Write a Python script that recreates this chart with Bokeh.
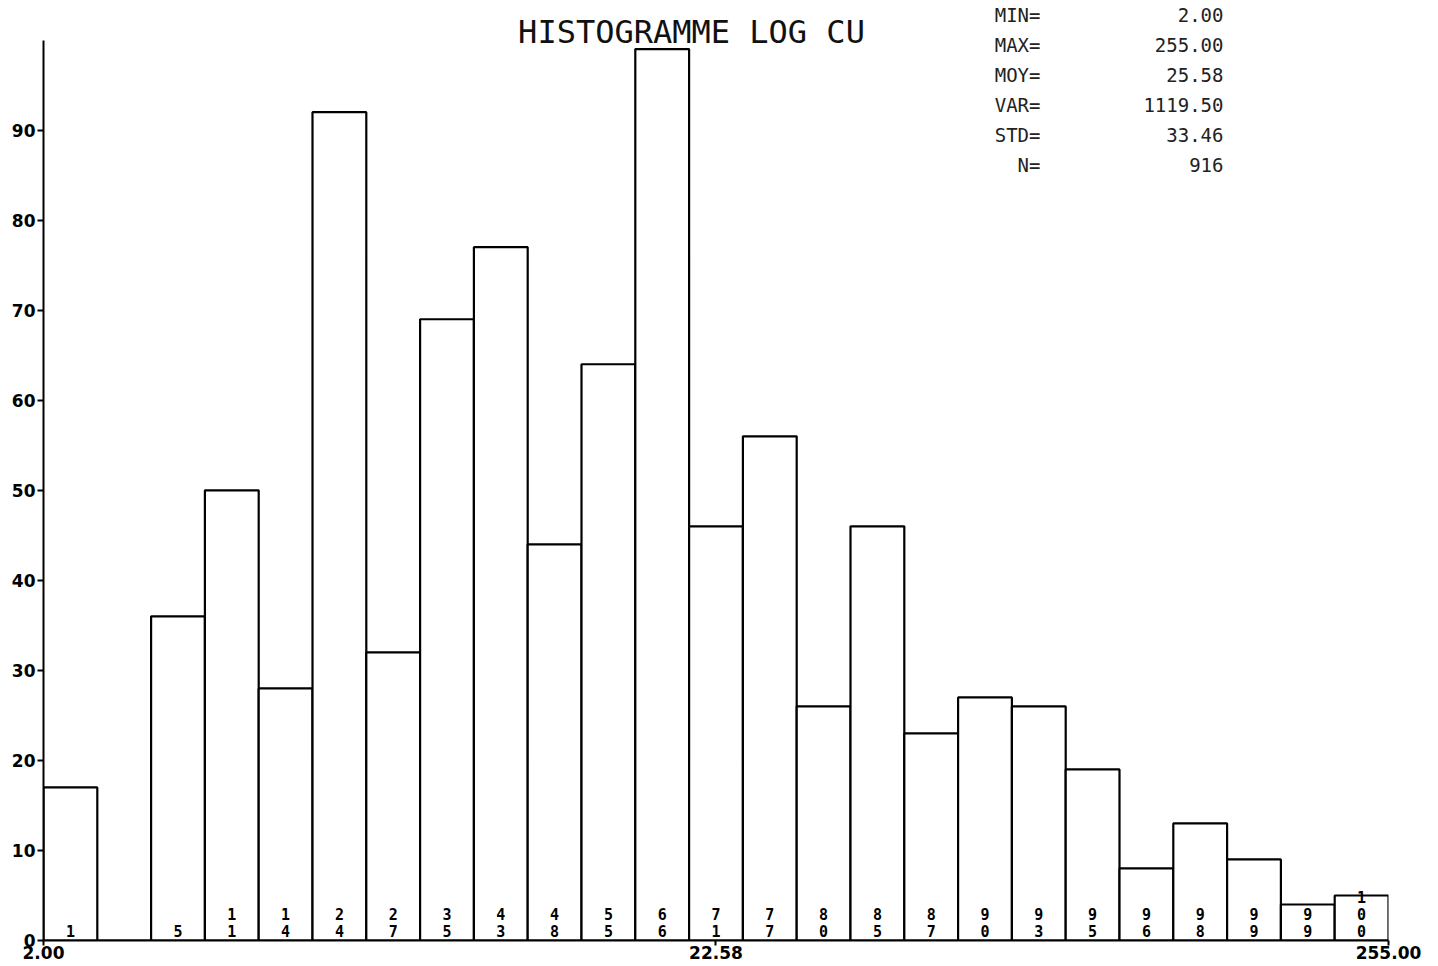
import numpy as np
from bokeh.plotting import figure
from bokeh.models import (ColumnDataSource, FixedTicker, PrintfTickFormatter,
                          Range1d, Label)
from bokeh.embed import file_html
from bokeh.resources import INLINE

# ---------------- data ----------------
title_text = "HISTOGRAMME LOG CU"
x_min, x_max, x_mid = 2.00, 255.00, 22.58
counts = [17, 0, 36, 50, 28, 92, 32, 69, 77, 44, 64, 99, 46,
          56, 26, 46, 23, 27, 26, 19, 8, 13, 9, 4, 5]
cum_labels = ["1", "", "5", "11", "14", "24", "27", "35", "43", "48", "55",
              "66", "71", "77", "80", "85", "87", "90", "93", "95", "96",
              "98", "99", "99", "100"]
y_ticks = [0, 10, 20, 30, 40, 50, 60, 70, 80, 90]
x_ticks = [x_min, x_mid, x_max]
stat_names = ["MIN=", "MAX=", "MOY=", "VAR=", "STD=", "N="]
stat_values = ["2.00", "255.00", "25.58", "1119.50", "33.46", "916"]

# ---------------- figure ----------------
W, H = 1438, 966
frame_h = 940
p = figure(width=W, height=H, x_axis_type="log",
           x_range=Range1d(x_min, x_max), y_range=Range1d(0, 104.4),
           output_backend="svg", toolbar_location=None,
           min_border_left=43, min_border_right=50,
           min_border_top=0, min_border_bottom=26)
p.outline_line_color = None
p.xgrid.grid_line_color = None
p.ygrid.grid_line_color = None
p.background_fill_color = "white"
p.border_fill_color = "white"

edges = np.geomspace(x_min, x_max, len(counts) + 1)
left, right = edges[:-1], edges[1:]
centers = np.sqrt(left * right)

bars = ColumnDataSource(dict(left=left, right=right,
                             top=counts, bottom=[0] * len(counts)))
p.quad(left="left", right="right", top="top", bottom="bottom", source=bars,
       fill_color="white", line_color="black", line_width=2.2)

# stacked cumulative-percent digits at bar bottoms
dx, dy, dt = [], [], []
for c, lab in zip(centers, cum_labels):
    for k, ch in enumerate(reversed(lab)):
        dx.append(c)
        dy.append(-10 - 17 * k)
        dt.append(ch)
dsrc = ColumnDataSource(dict(x=dx, y=[0] * len(dx), off=dy, t=dt))
p.text(x="x", y="y", text="t", y_offset="off", source=dsrc,
       text_align="center", text_baseline="alphabetic",
       text_font_size="15px", text_font_style="bold",
       text_font={"value": "DejaVu Sans Mono"}, text_color="black")

# axes
ya = p.yaxis[0]
ya.ticker = FixedTicker(ticks=y_ticks)
ya.bounds = (0, 100)
ya.major_tick_out = 6
ya.major_tick_in = 0
ya.minor_tick_out = 0
ya.minor_tick_in = 0
ya.axis_line_width = 2
ya.major_tick_line_width = 2
ya.major_label_standoff = 2
ya.major_label_text_font = "DejaVu Sans"
ya.major_label_text_font_style = "bold"
ya.major_label_text_font_size = "17px"
ya.major_label_text_color = "black"

xa = p.xaxis[0]
xa.ticker = FixedTicker(ticks=x_ticks)
xa.formatter = PrintfTickFormatter(format="%.2f")
xa.major_tick_out = 5
xa.major_tick_in = 0
xa.minor_tick_out = 0
xa.minor_tick_in = 0
xa.axis_line_width = 2
xa.major_tick_line_width = 2
xa.major_label_standoff = 0
xa.major_label_text_font = "DejaVu Sans"
xa.major_label_text_font_style = "bold"
xa.major_label_text_font_size = "17px"
xa.major_label_text_color = "black"

# title (screen units relative to the frame, origin bottom-left)
p.add_layout(Label(x=691 - 43, y=frame_h - 31, x_units="screen",
                   y_units="screen", text=title_text, text_align="center",
                   text_baseline="middle", text_font="DejaVu Sans Mono",
                   text_font_size="32px", text_color="#111111"))

# statistics block
for i, (n, v) in enumerate(zip(stat_names, stat_values)):
    ys = frame_h - (14 + 30 * i)
    p.add_layout(Label(x=1040 - 43, y=ys, x_units="screen", y_units="screen",
                       text=n, text_align="right", text_baseline="middle",
                       text_font="DejaVu Sans Mono", text_font_size="19px",
                       text_color="#222222"))
    p.add_layout(Label(x=1223 - 43, y=ys, x_units="screen", y_units="screen",
                       text=v, text_align="right", text_baseline="middle",
                       text_font="DejaVu Sans Mono", text_font_size="19px",
                       text_color="#222222"))

open("out.html", "w").write(file_html(p, INLINE))
